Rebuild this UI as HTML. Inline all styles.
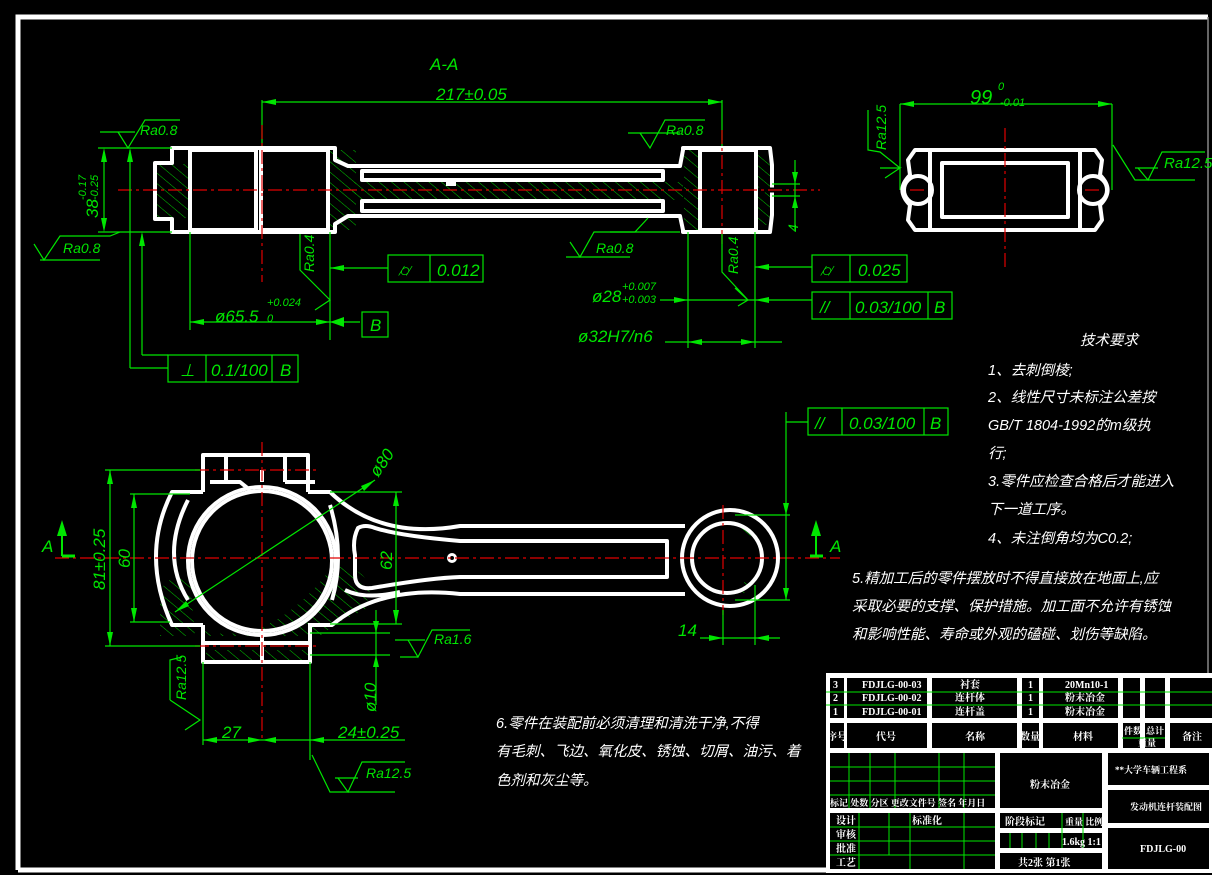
<!DOCTYPE html>
<html><head><meta charset="utf-8">
<style>
html,body{margin:0;padding:0;background:#000;}
svg{display:block}
.g{stroke:#00e600;stroke-width:1.2;fill:none}
.w{stroke:#fff;stroke-width:4;fill:none;stroke-linejoin:round}
.r{stroke:#e00000;stroke-width:1.2;stroke-dasharray:14 4 3 4;fill:none}
.t{fill:#00e600;font-family:"Liberation Sans",sans-serif;font-style:italic;font-size:17px}
.s{fill:#00e600;font-family:"Liberation Sans",sans-serif;font-style:italic;font-size:11px}
.c{fill:#fff;font-family:"Liberation Sans","Noto Sans CJK SC",sans-serif;font-size:14.5px;font-style:italic}
.tb{fill:#fff;font-family:"Liberation Serif","Noto Serif CJK SC","Noto Sans CJK SC",serif;font-size:10px;font-weight:bold}
.a{fill:#00e600}
</style></head><body>
<svg width="1212" height="875" viewBox="0 0 1212 875" xmlns="http://www.w3.org/2000/svg">
<defs>
<pattern id="hp" patternUnits="userSpaceOnUse" width="8" height="8" patternTransform="rotate(-50)">
<line x1="0" y1="0" x2="0" y2="8" stroke="#00c800" stroke-width="1"/>
</pattern>
</defs>
<rect x="0" y="0" width="1212" height="875" fill="#000"/>
<path d="M18,870 V17 H1208" stroke="#fff" stroke-width="5" fill="none"/>
<line x1="18" y1="870" x2="1208" y2="870" stroke="#fff" stroke-width="5"/>
<line x1="1208" y1="17" x2="1208" y2="870" stroke="#888" stroke-width="1.5"/>

<!-- ============ SECTION A-A ============ -->
<text class="t" x="430" y="70">A-A</text>
<line class="g" x1="262" y1="100" x2="262" y2="148"/>
<line class="g" x1="722" y1="100" x2="722" y2="148"/>
<line class="g" x1="262" y1="102" x2="722" y2="102"/>
<polygon class="a" points="262,102 276,99 276,105"/><polygon class="a" points="722,102 708,99 708,105"/>
<text class="t" x="436" y="100">217±0.05</text>
<rect x="154" y="164" width="36" height="54" fill="url(#hp)"/>
<rect x="330" y="150" width="26" height="80" fill="url(#hp)"/>
<polygon points="352,182 683,182 683,200 352,200" fill="url(#hp)"/>
<rect x="684" y="150" width="18" height="80" fill="url(#hp)"/>
<rect x="756" y="155" width="14" height="70" fill="url(#hp)"/>
<path class="w" d="M172,148 H335 V160 L348,166 H680 L683,150 V148 H770 L772,165 V215 L770,232 H683 V230 L680,216 H348 L335,224 V232 H172 V219 H155 V163 H172 Z"/>
<rect class="w" x="190" y="150" width="66" height="80" stroke-width="3"/>
<rect class="w" x="261" y="150" width="67" height="80" stroke-width="3"/>
<rect class="w" x="700" y="150" width="56" height="80" stroke-width="3"/>
<path class="w" stroke-width="3" d="M362,171 H663 V180 H362 Z"/>
<path class="w" stroke-width="3" d="M362,201 H663 V211 H362 Z"/>
<rect x="446" y="181" width="10" height="5" fill="#fff"/>
<line x1="758" y1="190" x2="775" y2="190" stroke="#000" stroke-width="5"/>
<line class="r" x1="118" y1="190" x2="820" y2="190"/>
<line class="r" x1="262" y1="125" x2="262" y2="282"/>
<line class="r" x1="722" y1="130" x2="722" y2="245"/>
<line class="g" x1="98" y1="148" x2="172" y2="148"/>
<line class="g" x1="98" y1="232" x2="172" y2="232"/>
<line class="g" x1="104" y1="152" x2="104" y2="228"/>
<polygon class="a" points="104,148 101,162 107,162"/><polygon class="a" points="104,232 101,218 107,218"/>
<text class="t" transform="translate(98,218) rotate(-90)">38</text>
<text class="s" transform="translate(86,200) rotate(-90)">-0.17</text>
<text class="s" transform="translate(98,200) rotate(-90)">-0.25</text>
<line class="g" x1="130" y1="150" x2="130" y2="368"/>
<polygon class="a" points="130,148 127,162 133,162"/>
<line class="g" x1="142" y1="234" x2="142" y2="355"/>
<polygon class="a" points="142,232 139,246 145,246"/>
<line class="g" x1="130" y1="368" x2="168" y2="368"/>
<line class="g" x1="142" y1="355" x2="168" y2="355"/>
<path class="g" d="M118,132 L128,148 L145,120 H180"/><line class="g" x1="100" y1="132" x2="135" y2="132"/>
<text class="t" x="140" y="135" style="font-size:14px">Ra0.8</text>
<path class="g" d="M34,244 L44,260 L60,236 H110 L120,232"/><line class="g" x1="40" y1="260" x2="100" y2="260"/>
<text class="t" x="63" y="253" style="font-size:14px">Ra0.8</text>
<rect class="g" x="168" y="355" width="130" height="27"/>
<line class="g" x1="206" y1="355" x2="206" y2="382"/><line class="g" x1="272" y1="355" x2="272" y2="382"/>
<text class="t" x="180" y="376">⊥</text><text class="t" x="211" y="376">0.1/100</text><text class="t" x="280" y="376">B</text>
<line class="g" x1="190" y1="232" x2="190" y2="330"/>
<line class="g" x1="330" y1="232" x2="330" y2="340"/>
<line class="g" x1="190" y1="322" x2="360" y2="322"/>
<polygon class="a" points="190,322 204,319 204,325"/><polygon class="a" points="330,322 316,319 316,325"/>
<text class="t" x="215" y="322">ø65.5</text>
<text class="s" x="267" y="306">+0.024</text><text class="s" x="267" y="322">0</text>
<polygon class="a" points="330,322 344,317 344,327"/>
<rect class="g" x="362" y="312" width="26" height="25"/><text class="t" x="370" y="331">B</text>
<path class="g" d="M300,234 V270 L330,300 M315,285 L330,300 L315,310"/>
<text class="t" transform="translate(314,272) rotate(-90)" style="font-size:14px">Ra0.4</text>
<line class="g" x1="330" y1="268" x2="388" y2="268"/><polygon class="a" points="330,268 344,265 344,271"/>
<rect class="g" x="388" y="255" width="95" height="27"/><line class="g" x1="430" y1="255" x2="430" y2="282"/>
<text class="t" x="398" y="276">⌭</text><text class="t" x="437" y="276">0.012</text>
<path class="g" d="M640,133 L650,148 L665,120 H705"/><line class="g" x1="628" y1="133" x2="680" y2="133"/>
<text class="t" x="666" y="135" style="font-size:14px">Ra0.8</text>
<path class="g" d="M570,242 L580,257 L594,232 H635 L648,218"/><line class="g" x1="566" y1="257" x2="630" y2="257"/>
<line class="g" x1="610" y1="232" x2="680" y2="232"/>
<text class="t" x="596" y="253" style="font-size:14px">Ra0.8</text>
<path class="g" d="M722,234 V272 L748,300 M735,288 L748,300 L738,306"/>
<text class="t" transform="translate(738,274) rotate(-90)" style="font-size:14px">Ra0.4</text>
<line class="g" x1="688" y1="232" x2="688" y2="348"/>
<line class="g" x1="755" y1="232" x2="755" y2="348"/>
<line class="g" x1="660" y1="300" x2="812" y2="300"/>
<polygon class="a" points="688,300 674,297 674,303"/><polygon class="a" points="755,300 769,297 769,303"/>
<line class="g" x1="755" y1="267" x2="812" y2="267"/><polygon class="a" points="755,267 769,264 769,270"/>
<text class="t" x="592" y="302">ø28</text>
<text class="s" x="622" y="290">+0.007</text><text class="s" x="622" y="303">+0.003</text>
<line class="g" x1="665" y1="342" x2="782" y2="342"/>
<polygon class="a" points="688,342 702,339 702,345"/><polygon class="a" points="755,342 741,339 741,345"/>
<text class="t" x="578" y="342">ø32H7/n6</text>
<rect class="g" x="812" y="255" width="95" height="27"/><line class="g" x1="850" y1="255" x2="850" y2="282"/>
<text class="t" x="820" y="276">⌭</text><text class="t" x="858" y="276">0.025</text>
<rect class="g" x="812" y="292" width="140" height="27"/><line class="g" x1="850" y1="292" x2="850" y2="319"/><line class="g" x1="928" y1="292" x2="928" y2="319"/>
<text class="t" x="820" y="313">//</text><text class="t" x="855" y="313">0.03/100</text><text class="t" x="934" y="313">B</text>
<line class="g" x1="772" y1="184" x2="800" y2="184"/><line class="g" x1="772" y1="196" x2="800" y2="196"/>
<line class="g" x1="795" y1="160" x2="795" y2="230"/>
<polygon class="a" points="795,184 792,172 798,172"/><polygon class="a" points="795,196 792,208 798,208"/>
<text class="t" transform="translate(798,232) rotate(-90)" style="font-size:14px">4</text>

<!-- ============ TOP RIGHT VIEW ============ -->
<line class="g" x1="900" y1="104" x2="1112" y2="104"/>
<polygon class="a" points="900,104 914,101 914,107"/><polygon class="a" points="1112,104 1098,101 1098,107"/>
<line class="g" x1="900" y1="104" x2="900" y2="190"/><line class="g" x1="1112" y1="104" x2="1112" y2="190"/>
<text class="t" x="970" y="104" style="font-size:20px">99</text>
<text class="s" x="998" y="90">0</text><text class="s" x="1000" y="106">-0.01</text>
<path class="w" d="M915,150 H1095 L1102,160 L1100,175 Q1115,190 1100,205 L1102,220 L1095,230 H915 L908,220 L910,205 Q895,190 910,175 L908,160 Z"/>
<rect class="w" x="942" y="163" width="126" height="54" stroke-width="4"/>
<line class="w" x1="930" y1="150" x2="930" y2="230" stroke-width="3"/>
<line class="w" x1="1080" y1="150" x2="1080" y2="230" stroke-width="3"/>
<circle class="w" cx="918" cy="190" r="14"/>
<circle class="w" cx="1093" cy="190" r="14"/>
<line class="r" x1="1005" y1="128" x2="1005" y2="270"/>
<line class="r" x1="910" y1="190" x2="926" y2="190"/><line class="r" x1="1085" y1="190" x2="1101" y2="190"/>
<path class="g" d="M868,110 V150 L880,152 L900,168 M880,168 L900,168 L885,178"/>
<text class="t" transform="translate(886,150) rotate(-90)" style="font-size:14px">Ra12.5</text>
<path class="g" d="M1113,145 L1135,180 H1195 M1138,168 L1148,180 L1162,152 H1205"/><line class="g" x1="1135" y1="168" x2="1158" y2="168"/>
<text class="t" x="1164" y="168" style="font-size:15px">Ra12.5</text>

<!-- ============ FRONT VIEW ============ -->
<path d="M160,590 Q175,570 190,580 L195,636 H160 Z" fill="url(#hp)"/>
<path d="M332,567 Q365,565 370,590 L365,610 Q340,620 320,636 H210 L200,630 Q270,650 332,567 Z" fill="url(#hp)"/>
<rect x="206" y="650" width="102" height="10" fill="url(#hp)"/>
<path d="M738,520 Q750,530 752,540 L745,540 Z M738,598 Q750,590 752,580 L745,580 Z" fill="url(#hp)"/>
<path class="w" d="M203,492 V455 H308 V492"/>
<line class="w" x1="226" y1="455" x2="226" y2="482" stroke-width="3"/>
<line class="w" x1="285" y1="455" x2="285" y2="482" stroke-width="3"/>
<line class="w" x1="262" y1="470" x2="262" y2="482" stroke-width="3"/>
<path class="w" stroke-width="3" d="M210,482 H240 L250,490 M315,482 H285"/>
<path class="w" d="M203,492 H172 Q140,555 172,625 H203"/>
<path class="w" d="M308,492 H330 Q380,540 460,526 H685"/>
<path class="w" d="M308,625 H332 Q380,585 460,594 H685"/>
<path class="w" stroke-width="3" d="M188,500 Q160,555 188,600"/>
<path class="w" stroke-width="3" d="M330,505 Q345,555 332,600"/>
<circle class="w" cx="262" cy="561" r="74" stroke-width="3"/>
<circle class="w" cx="262" cy="561" r="70"/>
<path class="w" stroke-width="3" d="M358,528 Q352,540 355,555 V575 Q355,590 372,588 Q430,578 460,577 H667 V541 H460 Q400,536 375,528 Q365,524 358,528 Z"/>
<path class="w" stroke-width="3" d="M345,590 Q365,600 400,592"/>
<circle cx="452" cy="558" r="5" fill="#fff"/><circle cx="452" cy="558" r="2" fill="#000"/>
<circle class="w" cx="730" cy="558" r="48"/>
<circle class="w" cx="727" cy="558" r="35"/>
<path class="w" d="M203,625 V662 H310 V625"/>
<line class="w" x1="203" y1="643" x2="310" y2="643" stroke-width="3"/>
<line class="w" x1="262" y1="636" x2="262" y2="662" stroke-width="3"/>
<line class="r" x1="55" y1="558" x2="840" y2="558"/>
<line class="r" x1="262" y1="442" x2="262" y2="740"/>
<line class="r" x1="195" y1="470" x2="320" y2="470"/>
<line class="r" x1="195" y1="646" x2="320" y2="646"/>
<line class="r" x1="723" y1="505" x2="723" y2="615"/>
<line x1="62" y1="556" x2="75" y2="556" stroke="#00e600" stroke-width="3"/>
<line x1="62" y1="535" x2="62" y2="556" stroke="#00e600" stroke-width="2"/><polygon class="a" points="62,520 57,536 67,536"/>
<text class="t" x="42" y="552">A</text>
<line x1="810" y1="556" x2="823" y2="556" stroke="#00e600" stroke-width="3"/>
<line x1="816" y1="535" x2="816" y2="556" stroke="#00e600" stroke-width="2"/><polygon class="a" points="816,520 811,536 821,536"/>
<text class="t" x="830" y="552">A</text>
<line class="g" x1="105" y1="470" x2="200" y2="470"/><line class="g" x1="105" y1="646" x2="200" y2="646"/>
<line class="g" x1="110" y1="470" x2="110" y2="646"/>
<polygon class="a" points="110,470 107,484 113,484"/><polygon class="a" points="110,646 107,632 113,632"/>
<text class="t" transform="translate(105,590) rotate(-90)">81±0.25</text>
<line class="g" x1="130" y1="494" x2="190" y2="494"/><line class="g" x1="130" y1="622" x2="170" y2="622"/>
<line class="g" x1="134" y1="494" x2="134" y2="622"/>
<polygon class="a" points="134,494 131,508 137,508"/><polygon class="a" points="134,622 131,608 137,608"/>
<text class="t" transform="translate(130,568) rotate(-90)">60</text>
<line class="g" x1="175" y1="612" x2="375" y2="480"/>
<polygon class="a" points="375,480 364,491 361,486"/><polygon class="a" points="175,612 186,601 189,606"/>
<text class="t" transform="translate(378,478) rotate(-55)">ø80</text>
<line class="g" x1="330" y1="492" x2="402" y2="492"/><line class="g" x1="330" y1="624" x2="402" y2="624"/>
<line class="g" x1="396" y1="492" x2="396" y2="624"/>
<polygon class="a" points="396,492 393,506 399,506"/><polygon class="a" points="396,624 393,610 399,610"/>
<text class="t" transform="translate(392,570) rotate(-90)">62</text>
<line class="g" x1="310" y1="633" x2="390" y2="633"/><line class="g" x1="310" y1="655" x2="390" y2="655"/>
<line class="g" x1="376" y1="610" x2="376" y2="705"/>
<polygon class="a" points="376,633 373,621 379,621"/><polygon class="a" points="376,655 373,667 379,667"/>
<text class="t" transform="translate(376,712) rotate(-90)">ø10</text>
<path class="g" d="M408,640 L418,657 L432,630 H470"/><line class="g" x1="395" y1="640" x2="425" y2="640"/><line class="g" x1="400" y1="657" x2="418" y2="657"/>
<text class="t" x="434" y="644" style="font-size:14px">Ra1.6</text>
<line class="g" x1="735" y1="515" x2="790" y2="515"/><line class="g" x1="735" y1="600" x2="790" y2="600"/>
<line class="g" x1="786" y1="412" x2="786" y2="600"/>
<polygon class="a" points="786,515 783,503 789,503"/><polygon class="a" points="786,600 783,588 789,588"/>
<line class="g" x1="786" y1="422" x2="808" y2="422"/>
<rect class="g" x="808" y="408" width="140" height="27"/><line class="g" x1="842" y1="408" x2="842" y2="435"/><line class="g" x1="924" y1="408" x2="924" y2="435"/>
<text class="t" x="815" y="429">//</text><text class="t" x="849" y="429">0.03/100</text><text class="t" x="930" y="429">B</text>
<line class="g" x1="723" y1="610" x2="723" y2="645"/><line class="g" x1="755" y1="585" x2="755" y2="645"/>
<line class="g" x1="700" y1="638" x2="780" y2="638"/>
<polygon class="a" points="723,638 709,635 709,641"/><polygon class="a" points="755,638 769,635 769,641"/>
<text class="t" x="678" y="636">14</text>
<line class="g" x1="203" y1="662" x2="203" y2="745"/><line class="g" x1="310" y1="662" x2="310" y2="760"/>
<line class="g" x1="203" y1="740" x2="405" y2="740"/>
<polygon class="a" points="203,740 217,737 217,743"/><polygon class="a" points="262,740 248,737 248,743"/>
<polygon class="a" points="262,740 276,737 276,743"/><polygon class="a" points="310,740 324,737 324,743"/>
<text class="t" x="222" y="738">27</text><text class="t" x="338" y="738">24±0.25</text>
<path class="g" d="M170,700 V660 L182,657 M170,700 L200,720 L185,730"/>
<text class="t" transform="translate(186,700) rotate(-90)" style="font-size:14px">Ra12.5</text>
<path class="g" d="M312,755 L330,792 H395 M338,778 L348,792 L362,762 H405"/><line class="g" x1="335" y1="778" x2="358" y2="778"/>
<text class="t" x="366" y="778" style="font-size:14px">Ra12.5</text>

<!-- ============ TEXT ============ -->
<text class="c" x="1080" y="345">技术要求</text>
<text class="c" x="988" y="375">1、去刺倒棱;</text>
<text class="c" x="988" y="402">2、线性尺寸未标注公差按</text>
<text class="c" x="988" y="430">GB/T 1804-1992的m级执</text>
<text class="c" x="988" y="458">行;</text>
<text class="c" x="988" y="486">3.零件应检查合格后才能进入</text>
<text class="c" x="988" y="514">下一道工序。</text>
<text class="c" x="988" y="543">4、未注倒角均为C0.2;</text>
<text class="c" x="852" y="583">5.精加工后的零件摆放时不得直接放在地面上,应</text>
<text class="c" x="852" y="611">采取必要的支撑、保护措施。加工面不允许有锈蚀</text>
<text class="c" x="852" y="639">和影响性能、寿命或外观的磕碰、划伤等缺陷。</text>
<text class="c" x="496" y="728">6.零件在装配前必须清理和清洗干净,不得</text>
<text class="c" x="496" y="756">有毛刺、飞边、氧化皮、锈蚀、切屑、油污、着</text>
<text class="c" x="496" y="785">色剂和灰尘等。</text>

<!-- ============ TITLE BLOCK ============ -->
<rect x="826" y="673" width="386" height="200" fill="#fff"/>
<g fill="#000">
<rect x="830" y="678" width="14" height="40"/><rect x="847" y="678" width="80" height="40"/><rect x="932" y="678" width="85" height="40"/><rect x="1022" y="678" width="17" height="40"/><rect x="1043" y="678" width="75" height="40"/><rect x="1123" y="678" width="17" height="40"/><rect x="1145" y="678" width="20" height="40"/><rect x="1170" y="678" width="42" height="40"/>
<rect x="830" y="723" width="14" height="25"/><rect x="847" y="723" width="80" height="25"/><rect x="932" y="723" width="85" height="25"/><rect x="1022" y="723" width="17" height="25"/><rect x="1043" y="723" width="75" height="25"/><rect x="1123" y="723" width="17" height="25"/><rect x="1145" y="723" width="20" height="25"/><rect x="1170" y="723" width="42" height="25"/>
<rect x="830" y="753" width="165" height="55"/><rect x="830" y="813" width="165" height="56"/>
<rect x="1000" y="753" width="102" height="55"/><rect x="1000" y="813" width="102" height="15"/><rect x="1000" y="833" width="102" height="15"/><rect x="1000" y="853" width="102" height="16"/>
<rect x="1108" y="753" width="101" height="32"/><rect x="1108" y="790" width="101" height="33"/><rect x="1108" y="828" width="101" height="41"/>
</g>
<g stroke="#00e600" stroke-width="1">
<line x1="826" y1="692" x2="1212" y2="692"/><line x1="826" y1="705" x2="1212" y2="705"/>
<line x1="1122" y1="738" x2="1165" y2="738"/>
<line x1="830" y1="767" x2="995" y2="767"/><line x1="830" y1="781" x2="995" y2="781"/><line x1="830" y1="795" x2="995" y2="795"/>
<line x1="849" y1="753" x2="849" y2="808"/><line x1="870" y1="753" x2="870" y2="808"/><line x1="895" y1="753" x2="895" y2="808"/><line x1="939" y1="753" x2="939" y2="808"/><line x1="964" y1="753" x2="964" y2="808"/>
<line x1="830" y1="827" x2="995" y2="827"/><line x1="830" y1="841" x2="995" y2="841"/><line x1="830" y1="855" x2="995" y2="855"/>
<line x1="859" y1="813" x2="859" y2="869"/><line x1="889" y1="813" x2="889" y2="855"/><line x1="910" y1="813" x2="910" y2="869"/><line x1="964" y1="813" x2="964" y2="869"/>
<line x1="1010" y1="833" x2="1010" y2="848"/><line x1="1022" y1="833" x2="1022" y2="848"/><line x1="1036" y1="833" x2="1036" y2="848"/><line x1="1049" y1="833" x2="1049" y2="848"/>
<line x1="1062" y1="813" x2="1062" y2="848"/><line x1="1083" y1="813" x2="1083" y2="848"/>
</g>
<g class="tb">
<text x="833" y="688">3</text><text x="862" y="688">FDJLG-00-03</text><text x="960" y="688">衬套</text><text x="1028" y="688">1</text><text x="1065" y="688">20Mn10-1</text>
<text x="833" y="701">2</text><text x="862" y="701">FDJLG-00-02</text><text x="955" y="701">连杆体</text><text x="1028" y="701">1</text><text x="1065" y="701">粉末冶金</text>
<text x="833" y="715">1</text><text x="862" y="715">FDJLG-00-01</text><text x="955" y="715">连杆盖</text><text x="1028" y="715">1</text><text x="1065" y="715">粉末冶金</text>
<text x="827" y="740">序号</text><text x="876" y="740">代号</text><text x="965" y="740">名称</text><text x="1020" y="740">数量</text><text x="1073" y="740">材料</text><text x="1124" y="734" style="font-size:9px">件数</text><text x="1146" y="734" style="font-size:9px">总计</text><text x="1138" y="746" style="font-size:9px">重量</text><text x="1182" y="740">备注</text>
<text x="830" y="806" style="font-size:9px">标记 处数 分区 更改文件号 签名 年月日</text>
<text x="836" y="824">设计</text><text x="912" y="824">标准化</text><text x="836" y="838">审核</text><text x="836" y="852">批准</text><text x="836" y="866">工艺</text>
<text x="1030" y="788">粉末冶金</text>
<text x="1005" y="825">阶段标记</text><text x="1065" y="825" style="font-size:9px">重量 比例</text>
<text x="1062" y="845">1.6kg 1:1</text>
<text x="1018" y="866">共2张 第1张</text>
<text x="1115" y="773" style="font-size:9px">**大学车辆工程系</text>
<text x="1130" y="810" style="font-size:9px">发动机连杆装配图</text>
<text x="1140" y="852">FDJLG-00</text>
</g>
</svg>
</body></html>
